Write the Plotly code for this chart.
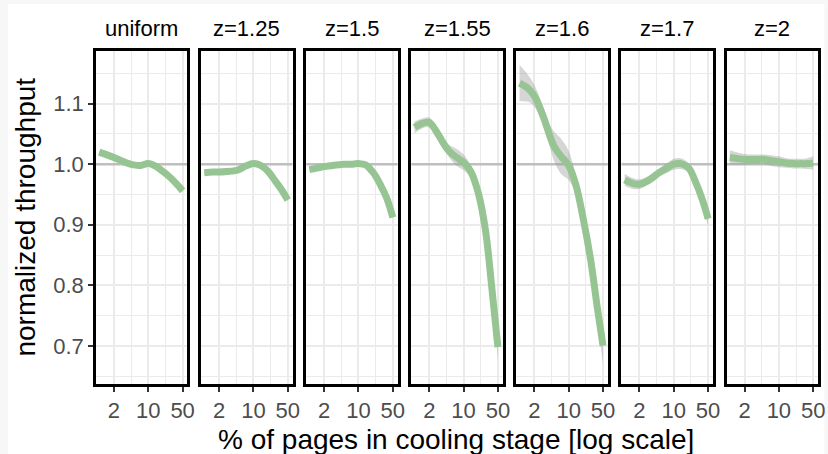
import plotly.graph_objects as go

PANELS = ["uniform", "z=1.25", "z=1.5", "z=1.55", "z=1.6", "z=1.7", "z=2"]
X_PCT = [1, 1.5, 2, 3, 4, 5, 7, 10, 14, 20, 28, 38, 50]

Y_UNIFORM = [1.020, 1.015, 1.011, 1.005, 1.001, 0.999, 0.998, 1.001, 0.997, 0.988, 0.978, 0.967, 0.956]
Y_Z125 = [0.986, 0.987, 0.987, 0.988, 0.989, 0.991, 0.997, 1.001, 0.998, 0.988, 0.972, 0.957, 0.941]
Y_Z150 = [0.991, 0.994, 0.996, 0.998, 0.999, 1.000, 1.000, 1.001, 0.999, 0.986, 0.966, 0.943, 0.912]
Y_Z155 = [1.061, 1.068, 1.069, 1.050, 1.033, 1.022, 1.012, 1.003, 0.988, 0.952, 0.890, 0.792, 0.698]
Y_Z160 = [1.134, 1.125, 1.113, 1.080, 1.050, 1.030, 1.013, 0.998, 0.966, 0.908, 0.842, 0.765, 0.700]
Y_Z170 = [0.974, 0.968, 0.967, 0.973, 0.980, 0.986, 0.993, 1.000, 1.001, 0.994, 0.970, 0.942, 0.910]
Y_Z200 = [1.011, 1.009, 1.008, 1.008, 1.008, 1.008, 1.006, 1.004, 1.002, 1.001, 1.001, 1.001, 1.002]

SE_UNIFORM = [0.002] * 13
SE_Z125 = [0.002] * 13
SE_Z150 = [0.002] * 13
SE_Z155 = [0.010, 0.008, 0.008, 0.008, 0.008, 0.010, 0.014, 0.013, 0.010, 0.010, 0.012, 0.014, 0.020]
SE_Z160 = [0.030, 0.022, 0.018, 0.016, 0.018, 0.024, 0.029, 0.024, 0.016, 0.016, 0.018, 0.022, 0.030]
SE_Z170 = [0.010, 0.009, 0.008, 0.007, 0.007, 0.007, 0.008, 0.009, 0.009, 0.008, 0.008, 0.010, 0.012]
SE_Z200 = [0.012, 0.010, 0.009, 0.008, 0.008, 0.008, 0.009, 0.009, 0.008, 0.008, 0.008, 0.009, 0.011]

Y_SERIES = [Y_UNIFORM, Y_Z125, Y_Z150, Y_Z155, Y_Z160, Y_Z170, Y_Z200]
SE_SERIES = [SE_UNIFORM, SE_Z125, SE_Z150, SE_Z155, SE_Z160, SE_Z170, SE_Z200]

X_TICKS = [2, 10, 50]
X_TICK_TEXT = ["2", "10", "50"]
X_MINOR = [0.894, 4.472, 22.36]
Y_TICKS = [0.7, 0.8, 0.9, 1.0, 1.1]
Y_TICK_TEXT = ["0.7", "0.8", "0.9", "1.0", "1.1"]
REF_Y = 1.0

W, H = 828, 454
ML, MR, MT, MB = 96, 9.5, 51, 70
PW = W - ML - MR
PH = H - MT - MB
PITCH = 105.17
PANEL_W = 91.5
XR = [-0.065, 1.797]
YR = [0.637, 1.187]

FONT = "Liberation Sans, Arial, Helvetica, sans-serif"
GREEN = "#96C593"
BAND = "rgba(153,153,153,0.4)"
GRID = "#EBEBEB"

fig = go.Figure()
layout = dict(
    width=W, height=H, autosize=False,
    margin=dict(l=ML, r=MR, t=MT, b=MB, pad=0, autoexpand=False),
    paper_bgcolor="#F7F7F7",
    plot_bgcolor="white",
    showlegend=False,
    font=dict(family=FONT, color="black"),
)

annotations = []
shapes = [dict(type="rect", xref="paper", yref="paper",
               x0=(8 - ML) / PW, x1=(825 - ML) / PW,
               y0=-(MB + 2) / PH, y1=(PH + MT - 4) / PH,
               fillcolor="white", line=dict(width=0), layer="below")]

for k, name in enumerate(PANELS):
    sfx = "" if k == 0 else str(k + 1)
    xa = "x" + sfx
    ya = "y" + sfx
    left = k * PITCH
    d0 = min(1.0, left / PW)
    d1 = min(1.0, (left + PANEL_W) / PW)
    y = Y_SERIES[k]
    se = SE_SERIES[k]
    lo = [a - b for a, b in zip(y, se)]
    hi = [a + b for a, b in zip(y, se)]
    # reference line at 1.0 across the whole panel
    fig.add_trace(go.Scatter(x=[10 ** XR[0], 10 ** XR[1]], y=[REF_Y, REF_Y], mode="lines",
                             line=dict(color="#BEBEBE", width=2.5), xaxis=xa, yaxis=ya,
                             hoverinfo="skip"))
    fig.add_trace(go.Scatter(x=X_PCT, y=lo, mode="lines", line=dict(width=0, shape="spline"),
                             xaxis=xa, yaxis=ya, hoverinfo="skip"))
    fig.add_trace(go.Scatter(x=X_PCT, y=hi, mode="lines", line=dict(width=0, shape="spline"),
                             fill="tonexty", fillcolor=BAND, xaxis=xa, yaxis=ya, hoverinfo="skip"))
    fig.add_trace(go.Scatter(x=X_PCT, y=y, mode="lines",
                             line=dict(color=GREEN, width=7, shape="spline", smoothing=1),
                             xaxis=xa, yaxis=ya))

    layout["xaxis" + sfx] = dict(
        domain=[d0, d1], anchor=ya, type="log", range=XR, automargin=False,
        tickmode="array", tickvals=X_TICKS, ticktext=X_TICK_TEXT,
        ticks="outside", ticklen=5, tickwidth=2, tickcolor="#333333",
        tickfont=dict(size=22, color="#4D4D4D", family=FONT),
        showline=True, linecolor="black", linewidth=2.5, mirror=True,
        showgrid=True, gridcolor=GRID, gridwidth=2,
        minor=dict(tickmode="array", tickvals=X_MINOR, showgrid=True, gridcolor=GRID, gridwidth=1, ticks=""),
        zeroline=False, fixedrange=True,
    )
    layout["yaxis" + sfx] = dict(
        domain=[0, 1], anchor=xa, range=YR, automargin=False,
        tickmode="array", tickvals=Y_TICKS, ticktext=Y_TICK_TEXT,
        ticksuffix="\u00a0",
        showticklabels=(k == 0),
        ticks="outside" if k == 0 else "", ticklen=5, tickwidth=2, tickcolor="#333333",
        tickfont=dict(size=22, color="#4D4D4D", family=FONT),
        showline=True, linecolor="black", linewidth=2.5, mirror=True,
        showgrid=True, gridcolor=GRID, gridwidth=2,
        minor=dict(dtick=0.05, tick0=0.65, showgrid=True, gridcolor=GRID, gridwidth=1, ticks=""),
        zeroline=False, fixedrange=True,
    )
    annotations.append(dict(text=name, xref="paper", yref="paper",
                            x=(left + PANEL_W / 2) / PW, y=1 + (MT - 29) / PH,
                            xanchor="center", yanchor="middle", showarrow=False,
                            font=dict(size=22, color="black", family=FONT)))

annotations.append(dict(text="normalized throughput", xref="paper", yref="paper",
                        x=(25 - ML) / PW, y=0.5, textangle=-90, xanchor="center", yanchor="middle",
                        showarrow=False, font=dict(size=28, color="black", family=FONT)))
annotations.append(dict(text="% of pages in cooling stage [log scale]", xref="paper", yref="paper",
                        x=(456 - ML) / PW, y=-(439 - (MT + PH)) / PH, xanchor="center", yanchor="middle",
                        showarrow=False, font=dict(size=28, color="black", family=FONT)))

layout["annotations"] = annotations
layout["shapes"] = shapes
fig.update_layout(**layout)
fig.write_html("out.html", config={"displayModeBar": False},
               post_script="document.body.style.margin='0';document.body.style.overflow='hidden';")
